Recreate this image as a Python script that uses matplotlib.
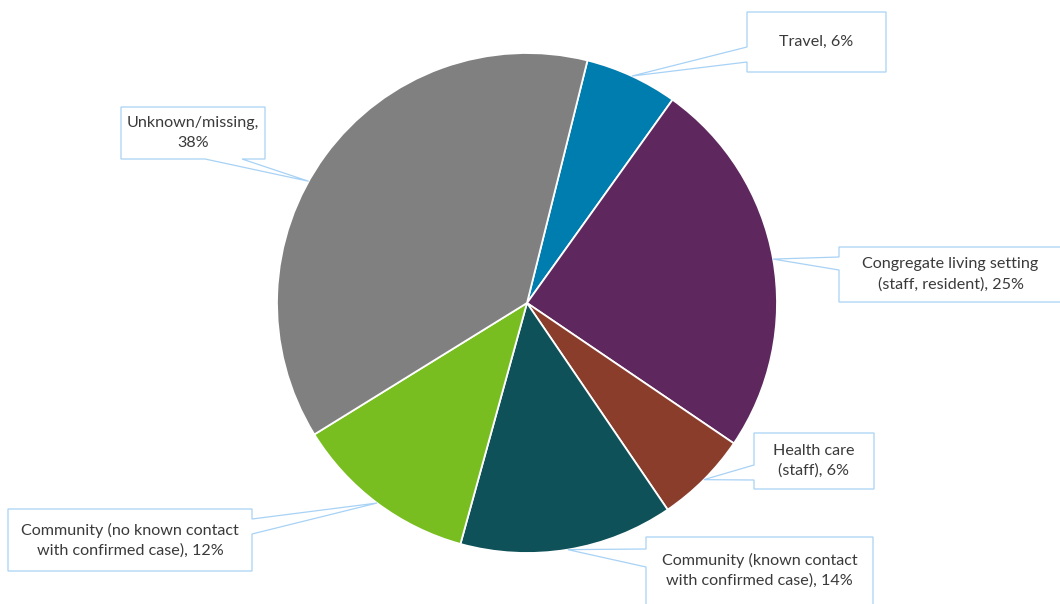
import numpy as np
import matplotlib
matplotlib.use("Agg")
import matplotlib.pyplot as plt
from matplotlib.patches import Polygon

plt.rcParams["font.family"] = ["Lato", "DejaVu Sans"]

# 数据（从图中读取的百分比估计值）
categories = [
    "Travel",
    "Congregate living setting\n(staff, resident)",
    "Health care\n(staff)",
    "Community (known contact\nwith confirmed case)",
    "Community (no known contact\nwith confirmed case)",
    "Unknown/missing",
]
shares = [6.0, 24.6, 6.0, 13.8, 11.9, 37.7]
colors = ["#007DAF", "#5E285E", "#8B3D2C", "#0E5159", "#78BE21", "#808080"]

# 标注框布局（像素坐标：左, 上, 右, 下；指针所在边及其起止位置）
boxes = [
    ((747, 12, 886, 72), "left", (47, 62)),
    ((839, 247, 1062, 302), "left", (257, 270)),
    ((754, 433, 874, 489), "left", (465, 480)),
    ((646, 537, 873, 606), "left", (549, 567)),
    ((8, 509, 252, 571), "right", (519, 534)),
    ((121, 107, 265, 159), "bottom", (205, 242)),
]
tip_shift = {5: -7.0}
label_sep = {5: ",\n"}

W, H = 1060, 604
CX, CY, R = 527, 303, 250
EDGE = "#A8D2F5"
TEXT = "#3A3A3A"


def callout_points(box, side, base, tip):
    x0, y0, x1, y1 = box
    a, b = base
    if side == "left":
        return [(x0, y0), (x1, y0), (x1, y1), (x0, y1), (x0, b), tip, (x0, a)]
    if side == "right":
        return [(x0, y0), (x1, y0), (x1, a), tip, (x1, b), (x1, y1), (x0, y1)]
    return [(x0, y0), (x1, y0), (x1, y1), (b, y1), tip, (a, y1), (x0, y1)]


fig = plt.figure(figsize=(W / 100, H / 100), dpi=100)
ax = fig.add_axes([0, 0, 1, 1])

wedges, _ = ax.pie(
    shares,
    colors=colors,
    center=(CX, CY),
    radius=R,
    startangle=-76,
    counterclock=True,
    wedgeprops=dict(edgecolor="white", linewidth=1.3),
)
ax.set_xlim(0, W)
ax.set_ylim(H, 0)
ax.set_aspect("equal")
ax.axis("off")

for i, (w, (box, side, base)) in enumerate(zip(wedges, boxes)):
    theta = np.deg2rad((w.theta1 + w.theta2) / 2 + tip_shift.get(i, 0.0))
    tip = (CX + R * np.cos(theta), CY + R * np.sin(theta))
    pts = callout_points(box, side, base, tip)
    ax.add_patch(Polygon(pts, closed=True, facecolor="white",
                         edgecolor=EDGE, linewidth=0.9, zorder=3))
    sep = label_sep.get(i, ", ")
    text = f"{categories[i]}{sep}{round(shares[i])}%"
    x0, y0, x1, y1 = box
    cy = (y0 + y1) / 2 if i != 3 else 570
    ax.text((x0 + x1) / 2, cy, text, ha="center", va="center",
            fontsize=11.6, color=TEXT, linespacing=1.5, zorder=4)

fig.savefig("out.png", dpi=100)
